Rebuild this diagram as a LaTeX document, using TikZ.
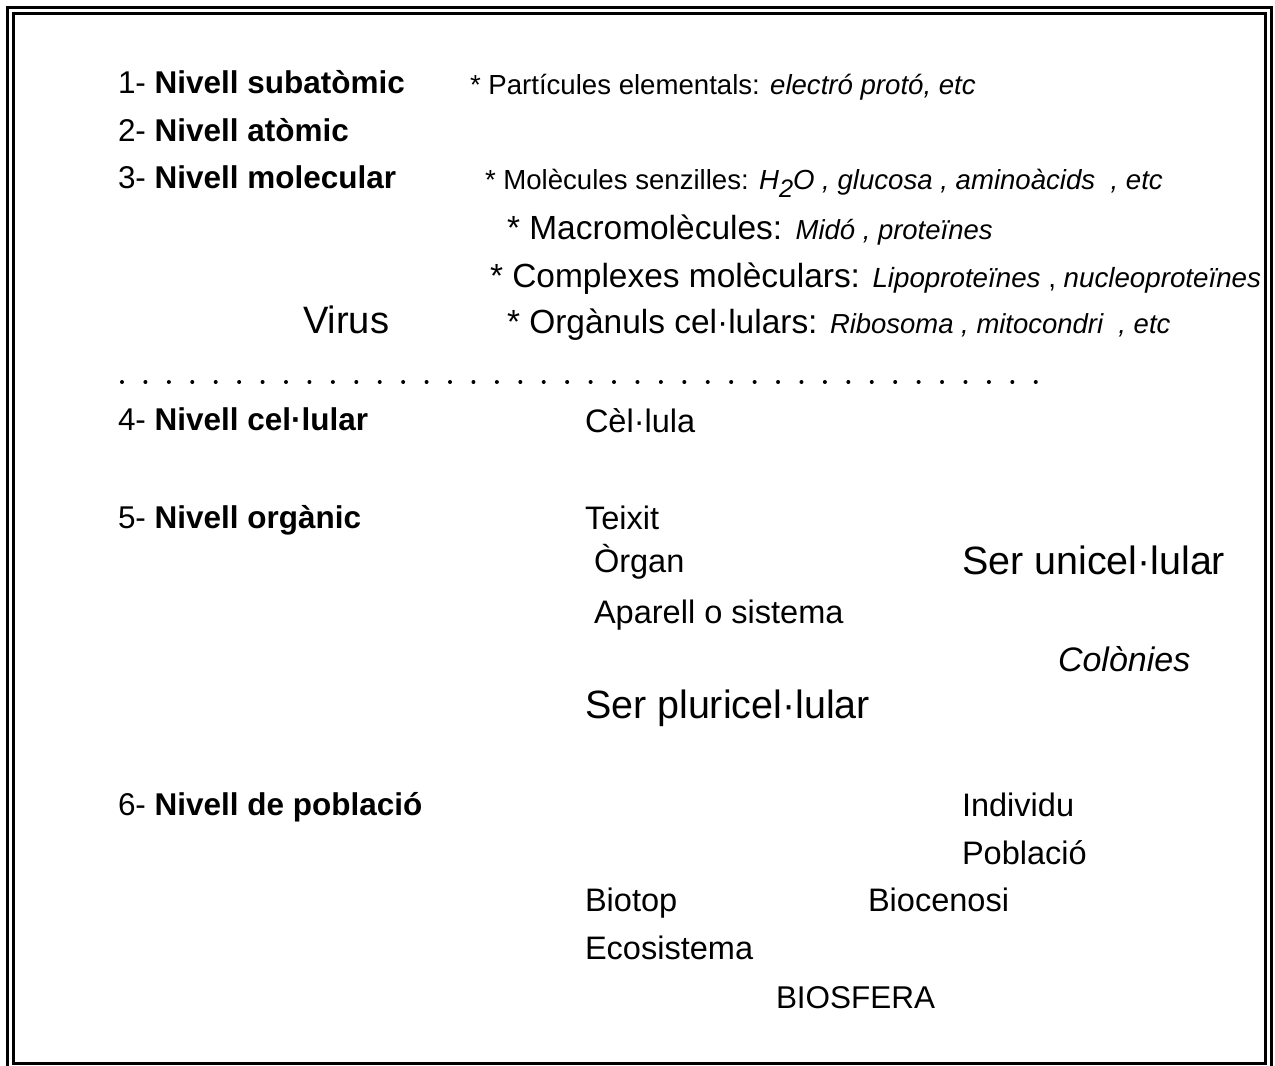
\documentclass[tikz,border=0pt]{standalone}
\usepackage{fontspec}
\setmainfont{Liberation Sans}
\newcommand\myfs[1]{\fontsize{#1}{#1}\selectfont}
\begin{document}
\begin{tikzpicture}[x=0.75pt,y=-0.75pt,
  txt/.style={inner sep=0pt, outer sep=0pt, anchor=base west},
  lab/.style={txt, font=\myfs{23.6pt}},
  reg/.style={txt, font=\myfs{24.4pt}},
  big/.style={txt, font=\myfs{29.6pt}},
  stars/.style={txt, font=\myfs{20.7pt}},
  starl/.style={txt, font=\myfs{25.1pt}},
  frame/.style={draw=black, line width=2.2pt}]
\useasboundingbox (0,0) rectangle (1275,1066);
% frame
\draw[frame] (7.5,1090) -- (7.5,7.5) -- (1271.8,7.5) -- (1271.8,1090);
\draw[line width=2pt] (13.3,13.3) rectangle (1265.8,1063.5);
% levels
\node[lab] (l1) at (118,94) {1- \textbf{Nivell subatòmic}};
\node[lab] (l2) at (118,142) {2- \textbf{Nivell atòmic}};
\node[lab] (l3) at (118,189) {3- \textbf{Nivell molecular}};
\node[lab] (l4) at (118,431) {4- \textbf{Nivell cel·lular}};
\node[lab] (l5) at (118,528) {5- \textbf{Nivell orgànic}};
\node[lab] (l6) at (118,815) {6- \textbf{Nivell de població}};
% molecular details
\node[stars] (part) at (470,95) {* Partícules elementals: \textit{electró protó, etc}};
\node[stars] (mol) at (485,190) {* Molècules senzilles: \textit{H\raisebox{-0.28em}{\myfs{19pt}2}O , glucosa , aminoàcids \ , etc}};
\node[txt] (macro) at (507,240) {\myfs{25.1pt}* Macromolècules:\hspace{0.4em}\myfs{20.6pt}\textit{Midó , proteïnes}};
\node[txt] (compl) at (490,288) {\myfs{25.1pt}* Complexes molèculars: \myfs{20.8pt}\textit{Lipoproteïnes} , \textit{nucleoproteïnes}};
\node[txt, font=\myfs{28.6pt}] (virus) at (303,334) {Virus};
\node[txt] (orgn) at (507,334) {\myfs{25.1pt}* Orgànuls cel·lulars: \myfs{20.6pt}\textit{Ribosoma , mitocondri \ , etc}};
% dotted separator
\foreach \i in {0,...,39}{
  \fill (122+\i*23.43,382) circle[radius=2];
}
% cellular
\node[reg] (cel) at (585,432) {Cèl·lula};
\node[reg] (teix) at (585,529) {Teixit};
\node[reg] (organ) at (594,572) {Òrgan};
\node[big] (uni) at (962,574) {Ser unicel·lular};
\node[reg] (apar) at (594,623) {Aparell o sistema};
\node[txt, font=\myfs{25.5pt}\itshape] (colo) at (1058,671) {Colònies};
\node[big] (pluri) at (585,718) {Ser pluricel·lular};
% population
\node[reg] (indiv) at (962,816) {Individu};
\node[reg] (pobl) at (962,864) {Població};
\node[reg] (biot) at (585,911) {Biotop};
\node[reg] (bioc) at (868,911) {Biocenosi};
\node[reg] (ecos) at (585,959) {Ecosistema};
\node[txt, font=\myfs{23.6pt}] (biosf) at (776,1008) {BIOSFERA};
\end{tikzpicture}
\end{document}
